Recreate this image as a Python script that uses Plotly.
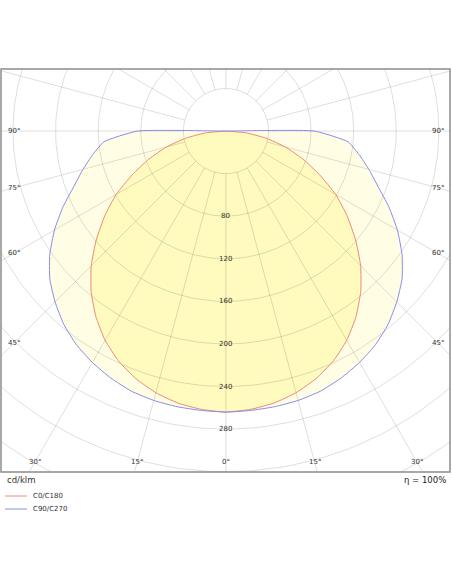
import numpy as np
import plotly.graph_objects as go

# gamma angles (deg from nadir) and intensities in cd/klm, symmetric luminaire
gamma = [0, 5, 10, 15, 20, 25, 30, 35, 40, 45, 50, 55, 60, 65, 70, 75, 80, 85, 90]
c0_c180 = [264, 262.5, 259.5, 254.5, 247.5, 238.5, 227, 213, 197, 179, 159, 139, 119, 97, 77, 58, 38, 19, 0]
c90_c270 = [264, 263.5, 263, 262, 260, 256, 251, 245, 237, 227, 216, 202, 186, 169, 152, 139, 127, 115, 83]

ring_values = [40, 80, 120, 160, 200, 240, 280, 320, 360, 400, 440]
ring_labels = [80, 120, 160, 200, 240, 280]
angle_labels = [0, 15, 30, 45, 60, 75, 90]

legend_names = ["C0/C180", "C90/C270"]
line_colors = ["#f0887a", "#8a8af0"]

# axis window (data units), plot area 449 x 403 px
x_range = [-211.3, 210.5]
y_range = [-320.3, 58.3]
px = 449 / (x_range[1] - x_range[0])


def to_xy(values, side):
    g = np.radians(np.array(gamma, dtype=float))
    v = np.array(values, dtype=float)
    return side * v * np.sin(g), -v * np.cos(g)


def closed_curve(values):
    # left half (C180/C270), then right half, closed through the centre
    xl, yl = to_xy(values, -1)
    xr, yr = to_xy(values, 1)
    x = np.concatenate([xl[::-1], xr[1:], [0.0], xl[-1:]])
    y = np.concatenate([yl[::-1], yr[1:], [0.0], yl[-1:]])
    return x, y


fig = go.Figure()

# fills
for vals, col in [(c90_c270, "#fffde3"), (c0_c180, "#fffabd")]:
    x, y = closed_curve(vals)
    fig.add_trace(go.Scatter(x=x, y=y, mode="lines", fill="toself", fillcolor=col,
                             line=dict(width=0, shape="spline", smoothing=0.45),
                             hoverinfo="skip", showlegend=False))

# polar grid
gx, gy = [], []
t = np.linspace(0, 2 * np.pi, 241)
for r in ring_values:
    gx += list(r * np.cos(t)) + [None]
    gy += list(r * np.sin(t)) + [None]
for a in range(0, 360, 15):
    ar = np.radians(a)
    gx += [40 * np.sin(ar), 700 * np.sin(ar), None]
    gy += [-40 * np.cos(ar), -700 * np.cos(ar), None]
fig.add_trace(go.Scatter(x=gx, y=gy, mode="lines", line=dict(color="rgba(0,0,0,0.13)", width=1),
                         hoverinfo="skip", showlegend=False))

# curves
for vals, name, col in zip([c0_c180, c90_c270], legend_names, line_colors):
    x, y = closed_curve(vals)
    fig.add_trace(go.Scatter(x=x, y=y, mode="lines", name=name,
                             line=dict(color=col, width=1, shape="spline", smoothing=0.45),
                             showlegend=False))

ann = []
font_small = dict(family="DejaVu Sans", size=7, color="#333333")

# radial value labels
for r in ring_labels:
    ann.append(dict(x=0, y=-r, text=str(r), showarrow=False, font=font_small,
                    xanchor="center", yanchor="middle"))

# angle labels where spokes meet an inset of the frame
x_in = -x_range[0] - 13 / px
y_in = -y_range[0] - 10 / px
for a in angle_labels:
    ar = np.radians(a)
    cands = []
    if np.sin(ar) > 1e-9:
        cands.append(x_in / np.sin(ar))
    if np.cos(ar) > 1e-9:
        cands.append(y_in / np.cos(ar))
    tt = min(cands)
    for side in ([-1, 1] if a else [1]):
        ann.append(dict(x=side * tt * np.sin(ar), y=-tt * np.cos(ar), text=f"{a}°",
                        showarrow=False, font=font_small, xanchor="center", yanchor="middle"))


def py(p):
    # pixel row below the plot -> paper y
    return (472 - p) / 403


def pxx(p):
    return (p - 1) / 449


ann.append(dict(x=pxx(5), y=py(480), xref="paper", yref="paper", text="cd/klm", showarrow=False,
                xanchor="left", yanchor="middle", font=dict(family="DejaVu Sans", size=8.5, color="#333333")))
ann.append(dict(x=pxx(448), y=py(480), xref="paper", yref="paper", text="η = 100%", showarrow=False,
                xanchor="right", yanchor="middle", font=dict(family="DejaVu Sans", size=8.5, color="#222222")))

shapes = []
for i, (name, col) in enumerate(zip(legend_names, line_colors)):
    yy = py(496 + 13 * i)
    shapes.append(dict(type="line", xref="paper", yref="paper", x0=pxx(5), x1=pxx(27), y0=yy, y1=yy,
                       line=dict(color=col, width=1)))
    ann.append(dict(x=pxx(31), y=yy, xref="paper", yref="paper", text=name, showarrow=False,
                    xanchor="left", yanchor="middle", font=dict(family="DejaVu Sans", size=7, color="#333333")))

shapes.append(dict(type="rect", xref="paper", yref="paper", x0=0, x1=1, y0=0, y1=1,
                   line=dict(color="#8c8c8c", width=1.5), layer="above"))

fig.update_layout(
    width=452, height=584,
    margin=dict(l=1, r=2, t=69, b=112),
    paper_bgcolor="white", plot_bgcolor="white",
    xaxis=dict(range=x_range, visible=False, fixedrange=True),
    yaxis=dict(range=y_range, visible=False, fixedrange=True),
    annotations=ann, shapes=shapes,
    showlegend=False,
)

fig.write_html("out.html", config={"displayModeBar": False},
               post_script="document.body.style.margin='0';")
